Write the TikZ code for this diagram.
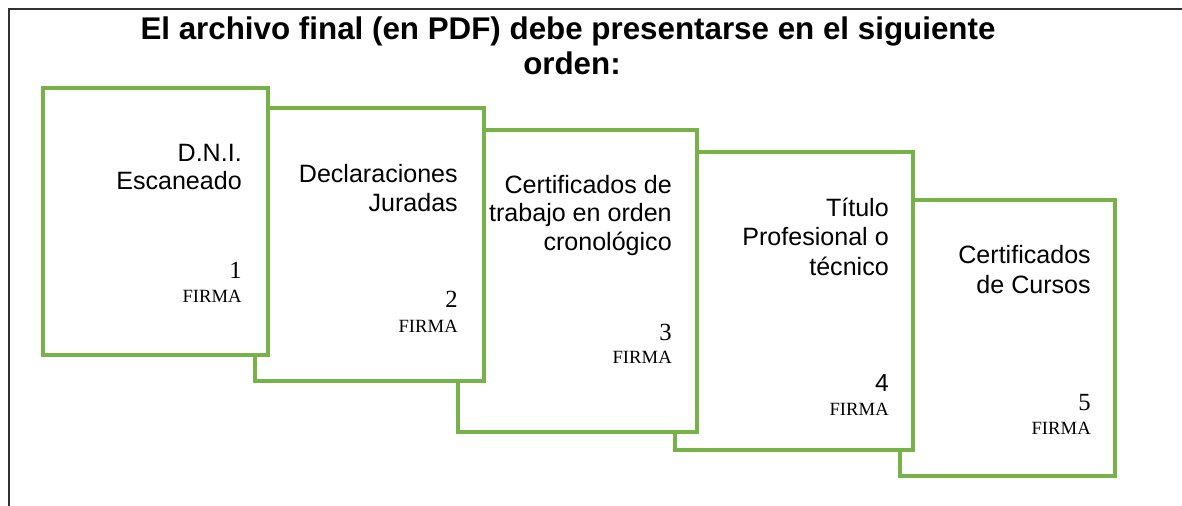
\documentclass[tikz,border=0pt]{standalone}
\usepackage{fontspec}
\setmainfont{Liberation Serif}
\newfontfamily\arialf{Liberation Sans}
\usetikzlibrary{fit}
\definecolor{boxgreen}{RGB}{118,178,72}
\definecolor{framegray}{RGB}{50,50,50}
\begin{document}
\begin{tikzpicture}[x=0.75pt,y=-0.75pt,
  pagebox/.style={draw=boxgreen,line width=2.3pt,fill=white,inner sep=0pt},
  frameline/.style={draw=framegray,line width=1.5pt},
  titletxt/.style={inner sep=0pt,anchor=base,font=\arialf\bfseries\fontsize{23.5}{28}\selectfont},
  doctxt/.style={inner sep=0pt,anchor=base east,font=\arialf\fontsize{18.8}{22}\selectfont},
  numtxt/.style={inner sep=0pt,anchor=base east,font=\fontsize{18.5}{22}\selectfont},
  numsans/.style={inner sep=0pt,anchor=base east,font=\arialf\fontsize{18.5}{22}\selectfont},
  firmatxt/.style={inner sep=0pt,anchor=base east,font=\fontsize{14}{16}\selectfont}]
\useasboundingbox (0,0) rectangle (1182,506);
% frame
\coordinate (fa) at (9,9);
\coordinate (fb) at (1182,9);
\coordinate (fc) at (9,506);
\draw[frameline] (fb) -- (fa) -- (fc);
% title
\node[titletxt] (t1) at (568,40) {El archivo final (en PDF) debe presentarse en el siguiente};
\node[titletxt] (t2) at (572,75) {orden:};
% boxes (back to front)
\node[pagebox,fit={(900,200) (1115,476)}] (b5) {};
\node[pagebox,fit={(675,152) (913,450)}] (b4) {};
\node[pagebox,fit={(458,130) (697,432)}] (b3) {};
\node[pagebox,fit={(255,108) (484,381)}] (b2) {};
\node[pagebox,fit={(43,88) (268,355)}] (b1) {};
% box 1
\node[doctxt] (b1a) at (242,162) {D.N.I.};
\node[doctxt] (b1b) at (242,190) {Escaneado};
\node[numtxt] (b1n) at (242,278) {1};
\node[firmatxt] (b1f) at (242,302) {FIRMA};
% box 2
\node[doctxt] (b2a) at (458,183) {Declaraciones};
\node[doctxt] (b2b) at (458,212) {Juradas};
\node[numtxt] (b2n) at (458,307) {2};
\node[firmatxt] (b2f) at (458,332) {FIRMA};
% box 3
\node[doctxt] (b3a) at (672,194) {Certificados de};
\node[doctxt] (b3b) at (672,222) {trabajo en orden};
\node[doctxt] (b3c) at (672,250) {cronológico};
\node[numtxt] (b3n) at (672,340) {3};
\node[firmatxt] (b3f) at (672,363) {FIRMA};
% box 4
\node[doctxt] (b4a) at (889,217) {Título};
\node[doctxt] (b4b) at (889,246) {Profesional o};
\node[doctxt] (b4c) at (889,275) {técnico};
\node[numsans] (b4n) at (889,391) {4};
\node[firmatxt] (b4f) at (889,415) {FIRMA};
% box 5
\node[doctxt] (b5a) at (1091,263) {Certificados};
\node[doctxt] (b5b) at (1091,293) {de Cursos};
\node[numtxt] (b5n) at (1091,410) {5};
\node[firmatxt] (b5f) at (1091,434) {FIRMA};
\end{tikzpicture}
\end{document}
